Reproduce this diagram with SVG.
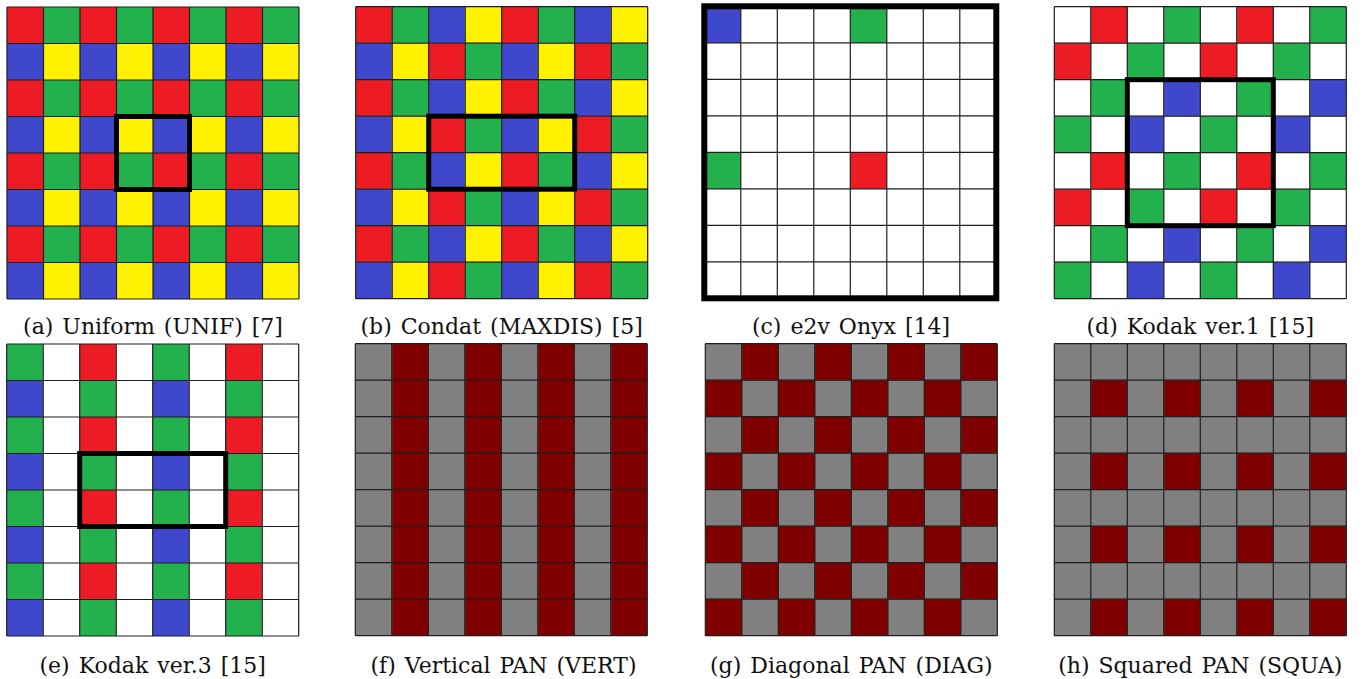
<svg xmlns="http://www.w3.org/2000/svg" xmlns:xlink="http://www.w3.org/1999/xlink" width="1363" height="679" viewBox="0 0 1363 679">
<style>
.grid{fill:none;stroke:#1e1e1e;stroke-width:1.2}
.hl{fill:none;stroke:#000;stroke-width:5}
.R{fill:#ED1C24}.G{fill:#22B14C}.B{fill:#3F48CC}.Y{fill:#FFF200}.W{fill:#fff}.K{fill:#808080}.D{fill:#800000}
.cap{font-family:'DejaVu Serif','Liberation Serif',serif;font-size:22px;word-spacing:2px;fill:#111;text-anchor:middle}
</style>
<defs>
<path id="gridlines" d="M0,0H292M0,36.5H292M0,73H292M0,109.5H292M0,146H292M0,182.5H292M0,219H292M0,255.5H292M0,292H292M0,0V292M36.5,0V292M73,0V292M109.5,0V292M146,0V292M182.5,0V292M219,0V292M255.5,0V292M292,0V292"/>
<pattern id="pUNIF" patternUnits="userSpaceOnUse" width="73" height="73">
<rect class="R" x="0" y="0" width="36.5" height="36.5"/><rect class="G" x="36.5" y="0" width="36.5" height="36.5"/>
<rect class="B" x="0" y="36.5" width="36.5" height="36.5"/><rect class="Y" x="36.5" y="36.5" width="36.5" height="36.5"/>
</pattern>
<pattern id="pMAX" patternUnits="userSpaceOnUse" width="146" height="73">
<rect class="R" x="0" y="0" width="36.5" height="36.5"/><rect class="G" x="36.5" y="0" width="36.5" height="36.5"/><rect class="B" x="73" y="0" width="36.5" height="36.5"/><rect class="Y" x="109.5" y="0" width="36.5" height="36.5"/>
<rect class="B" x="0" y="36.5" width="36.5" height="36.5"/><rect class="Y" x="36.5" y="36.5" width="36.5" height="36.5"/><rect class="R" x="73" y="36.5" width="36.5" height="36.5"/><rect class="G" x="109.5" y="36.5" width="36.5" height="36.5"/>
</pattern>
<pattern id="pK1" patternUnits="userSpaceOnUse" width="146" height="146">
<rect class="W" x="0" y="0" width="146" height="146"/>
<rect class="R" x="36.5" y="0" width="36.5" height="36.5"/><rect class="G" x="109.5" y="0" width="36.5" height="36.5"/>
<rect class="R" x="0" y="36.5" width="36.5" height="36.5"/><rect class="G" x="73" y="36.5" width="36.5" height="36.5"/>
<rect class="G" x="36.5" y="73" width="36.5" height="36.5"/><rect class="B" x="109.5" y="73" width="36.5" height="36.5"/>
<rect class="G" x="0" y="109.5" width="36.5" height="36.5"/><rect class="B" x="73" y="109.5" width="36.5" height="36.5"/>
</pattern>
<pattern id="pK3" patternUnits="userSpaceOnUse" width="146" height="73">
<rect class="W" x="0" y="0" width="146" height="73"/>
<rect class="G" x="0" y="0" width="36.5" height="36.5"/><rect class="R" x="73" y="0" width="36.5" height="36.5"/>
<rect class="B" x="0" y="36.5" width="36.5" height="36.5"/><rect class="G" x="73" y="36.5" width="36.5" height="36.5"/>
</pattern>
<pattern id="pVERT" patternUnits="userSpaceOnUse" width="73" height="36.5">
<rect class="K" x="0" y="0" width="36.5" height="36.5"/><rect class="D" x="36.5" y="0" width="36.5" height="36.5"/>
</pattern>
<pattern id="pDIAG" patternUnits="userSpaceOnUse" width="73" height="73">
<rect class="K" x="0" y="0" width="73" height="73"/>
<rect class="D" x="36.5" y="0" width="36.5" height="36.5"/><rect class="D" x="0" y="36.5" width="36.5" height="36.5"/>
</pattern>
<pattern id="pSQUA" patternUnits="userSpaceOnUse" width="73" height="73">
<rect class="K" x="0" y="0" width="73" height="73"/>
<rect class="D" x="36.5" y="36.5" width="36.5" height="36.5"/>
</pattern>
</defs>
<rect width="1363" height="679" fill="#fff"/>

<g id="panel-a" transform="translate(7,7)">
<rect x="0" y="0" width="292" height="292" fill="url(#pUNIF)"/>
<use xlink:href="#gridlines" class="grid"/>
<rect class="hl" x="109.5" y="109.5" width="73" height="73"/>
</g>
<g id="panel-b" transform="translate(355.7,6.7)">
<rect x="0" y="0" width="292" height="292" fill="url(#pMAX)"/>
<use xlink:href="#gridlines" class="grid"/>
<rect class="hl" x="73" y="109.5" width="146" height="73"/>
</g>
<g id="panel-c" transform="translate(704.3,6.3)">
<rect class="W" x="0" y="0" width="292" height="292"/>
<rect class="B" x="0" y="0" width="36.5" height="36.5"/>
<rect class="G" x="146" y="0" width="36.5" height="36.5"/>
<rect class="G" x="0" y="146" width="36.5" height="36.5"/>
<rect class="R" x="146" y="146" width="36.5" height="36.5"/>
<use xlink:href="#gridlines" class="grid"/>
<rect x="0" y="0" width="292" height="292" fill="none" stroke="#000" stroke-width="6"/>
</g>
<g id="panel-d" transform="translate(1054.3,6.7)">
<rect x="0" y="0" width="292" height="292" fill="url(#pK1)"/>
<use xlink:href="#gridlines" class="grid"/>
<rect class="hl" x="73" y="73" width="146" height="146"/>
</g>
<g id="panel-e" transform="translate(6.7,344)">
<rect x="0" y="0" width="292" height="292" fill="url(#pK3)"/>
<use xlink:href="#gridlines" class="grid"/>
<rect class="hl" x="73" y="109.5" width="146" height="73"/>
</g>
<g id="panel-f" transform="translate(355.3,343.7)">
<rect x="0" y="0" width="292" height="292" fill="url(#pVERT)"/>
<use xlink:href="#gridlines" class="grid"/>
</g>
<g id="panel-g" transform="translate(705.3,343.7)">
<rect x="0" y="0" width="292" height="292" fill="url(#pDIAG)"/>
<use xlink:href="#gridlines" class="grid"/>
</g>
<g id="panel-h" transform="translate(1054.3,343.7)">
<rect x="0" y="0" width="292" height="292" fill="url(#pSQUA)"/>
<use xlink:href="#gridlines" class="grid"/>
</g>

<g id="captions">
<text class="cap" x="153" y="334.3">(a) Uniform (UNIF) [7]</text>
<text class="cap" x="501.7" y="334.3">(b) Condat (MAXDIS) [5]</text>
<text class="cap" x="851" y="334.3">(c) e2v Onyx [14]</text>
<text class="cap" x="1200.3" y="334.3">(d) Kodak ver.1 [15]</text>
<text class="cap" x="152.7" y="673.3">(e) Kodak ver.3 [15]</text>
<text class="cap" x="503.5" y="673.3">(f) Vertical PAN (VERT)</text>
<text class="cap" x="851.3" y="673.3">(g) Diagonal PAN (DIAG)</text>
<text class="cap" x="1200.3" y="673.3">(h) Squared PAN (SQUA)</text>
</g>
</svg>
